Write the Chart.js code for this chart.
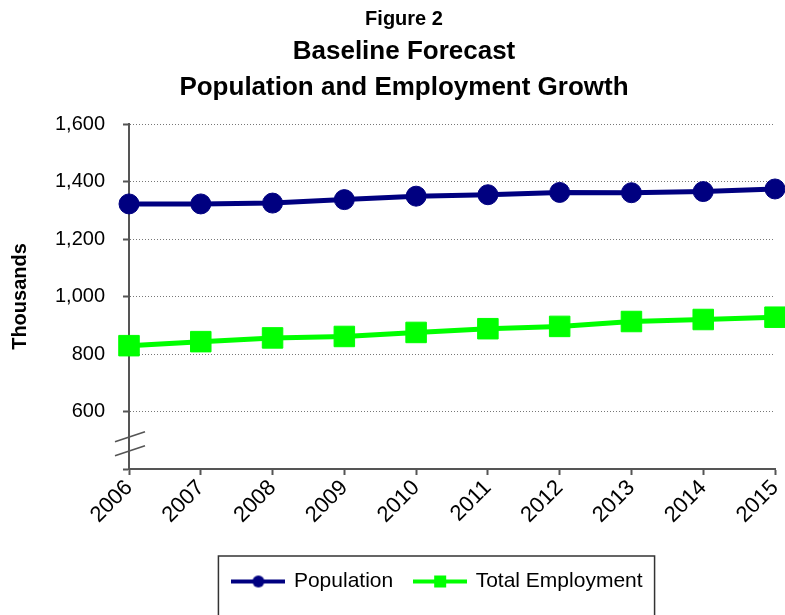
<!DOCTYPE html>
<html>
<head>
<meta charset="utf-8">
<title>Baseline Forecast</title>
<script src="https://cdn.jsdelivr.net/npm/chart.js@4.4.1/dist/chart.umd.min.js"></script>
<style>
  html, body { margin: 0; padding: 0; background: #fff; }
  canvas { display: block; }
</style>
</head>
<body>
<canvas id="chart" width="785" height="615"></canvas>
<script>
const years = ['2006', '2007', '2008', '2009', '2010', '2011', '2012', '2013', '2014', '2015'];
const population = [1322, 1322, 1325, 1337, 1349, 1354, 1362, 1361, 1365, 1374];
const employment = [829, 843, 856, 861, 875, 888, 896, 913, 920, 928];
const yRange = [400, 1600];
const yStep = 200;
const titleLines = ['Figure 2', 'Baseline Forecast', 'Population and Employment Growth'];

const FONT = 'Arial, "Liberation Sans", sans-serif';
const NAVY = '#000080';
const LIME = '#00ff00';
const AXIS = '#555555';

// line-with-marker swatch used as the legend symbol
function swatch(color, shape) {
  const c = document.createElement('canvas');
  c.width = 54;
  c.height = 16;
  const g = c.getContext('2d');
  g.strokeStyle = color;
  g.lineWidth = 4;
  g.beginPath();
  g.moveTo(0, 8);
  g.lineTo(54, 8);
  g.stroke();
  g.fillStyle = color;
  if (shape === 'circle') {
    g.beginPath();
    g.arc(27, 8, 6, 0, Math.PI * 2);
    g.fill();
  } else {
    g.fillRect(21, 2, 12, 12);
  }
  return c;
}
const swatches = [swatch(NAVY, 'circle'), swatch(LIME, 'rect')];

const titleBlock = {
  id: 'titleBlock',
  afterDraw(chart) {
    const ctx = chart.ctx;
    const cx = 404;
    ctx.save();
    ctx.fillStyle = '#000';
    ctx.textAlign = 'center';
    ctx.textBaseline = 'alphabetic';
    ctx.font = 'bold 20px ' + FONT;
    ctx.fillText(titleLines[0], cx, 25);
    ctx.font = 'bold 26px ' + FONT;
    ctx.fillText(titleLines[1], cx, 59);
    ctx.fillText(titleLines[2], cx, 95);
    ctx.restore();
  }
};

// the "//" break on the value axis between 400 and 600
const axisBreak = {
  id: 'axisBreak',
  afterDraw(chart) {
    const y = chart.scales.y;
    const x0 = y.right;
    const yc = y.getPixelForValue(488);
    const ctx = chart.ctx;
    ctx.save();
    ctx.strokeStyle = AXIS;
    ctx.lineWidth = 1.5;
    [-7, 7].forEach(d => {
      ctx.beginPath();
      ctx.moveTo(x0 - 14, yc + d + 5);
      ctx.lineTo(x0 + 16, yc + d - 5);
      ctx.stroke();
    });
    ctx.restore();
  }
};

// boxed legend, nudged a bit left of the plot centre
const legendFrame = {
  id: 'legendFrame',
  afterLayout(chart) {
    chart.legend.left -= 14;
    chart.legend.right -= 14;
  },
  afterDraw(chart) {
    const boxes = chart.legend.legendHitBoxes;
    if (!boxes || !boxes.length) return;
    const first = boxes[0];
    const last = boxes[boxes.length - 1];
    const left = first.left - 15;
    const right = last.left + last.width + 12;
    const top = first.top - 15;
    const ctx = chart.ctx;
    ctx.save();
    ctx.strokeStyle = '#333';
    ctx.lineWidth = 1.5;
    ctx.strokeRect(left, top, right - left, chart.height + 10 - top);
    ctx.restore();
  }
};

new Chart(document.getElementById('chart'), {
  type: 'line',
  data: {
    labels: years,
    datasets: [
      {
        label: 'Population',
        data: population,
        borderColor: NAVY,
        backgroundColor: NAVY,
        borderWidth: 5,
        pointStyle: 'circle',
        pointRadius: 10,
        pointHoverRadius: 10,
        pointBorderWidth: 1,
        tension: 0
      },
      {
        label: 'Total Employment',
        data: employment,
        borderColor: LIME,
        backgroundColor: LIME,
        borderWidth: 5,
        pointStyle: 'rect',
        pointRadius: 14.5,
        pointHoverRadius: 14.5,
        pointBorderWidth: 1,
        tension: 0
      }
    ]
  },
  options: {
    responsive: false,
    devicePixelRatio: 1,
    animation: false,
    layout: {
      autoPadding: false,
      padding: { top: 124, left: 8, right: 10, bottom: 13 }
    },
    plugins: {
      title: { display: false },
      tooltip: { enabled: false },
      legend: {
        position: 'bottom',
        fullSize: false,
        labels: {
          usePointStyle: true,
          pointStyleWidth: 50,
          padding: 22,
          color: '#000',
          font: { family: FONT, size: 21 },
          generateLabels(chart) {
            const items = Chart.defaults.plugins.legend.labels.generateLabels(chart);
            items.forEach((it, i) => { it.pointStyle = swatches[i]; });
            return items;
          }
        }
      }
    },
    scales: {
      x: {
        grid: {
          drawOnChartArea: false,
          drawTicks: true,
          tickLength: 6,
          tickColor: AXIS,
          tickWidth: 2
        },
        border: { color: AXIS, width: 2 },
        ticks: {
          color: '#000',
          font: { family: FONT, size: 22 },
          minRotation: 45,
          maxRotation: 45,
          autoSkip: false,
          padding: 0
        },
        afterFit(scale) {
          scale.height = 80;
          scale.paddingLeft = 0;
          scale.paddingRight = 0;
        }
      },
      y: {
        min: yRange[0],
        max: yRange[1],
        ticks: {
          stepSize: yStep,
          color: '#000',
          font: { family: FONT, size: 20 },
          padding: 18,
          callback: v => (v === yRange[0] ? '' : v.toLocaleString('en-US'))
        },
        grid: {
          color: '#777',
          lineWidth: 1,
          tickLength: 6,
          tickColor: AXIS,
          tickWidth: 2,
          tickBorderDash: []
        },
        border: { color: AXIS, width: 2, dash: [1, 2] },
        title: {
          display: true,
          text: 'Thousands',
          color: '#000',
          font: { family: FONT, size: 20, weight: 'bold' },
          padding: 0
        },
        afterFit(scale) { scale.width = 121; }
      }
    }
  },
  plugins: [titleBlock, axisBreak, legendFrame]
});
</script>
</body>
</html>
